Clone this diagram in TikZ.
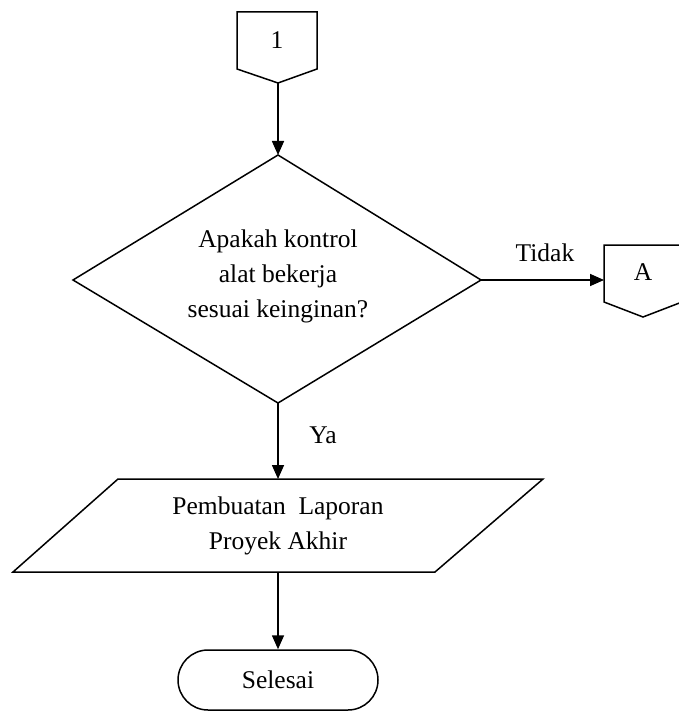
\documentclass[tikz,border=0pt]{standalone}
\usepackage{fontspec}
\setmainfont{Liberation Serif}
\usetikzlibrary{arrows.meta}
\begin{document}
\begin{tikzpicture}[x=1pt,y=-1pt,
  shapeline/.style={line width=1.5pt, line join=miter},
  conn/.style={line width=1.6pt, -{Triangle[length=14pt,width=12pt]}},
  txt/.style={font=\fontsize{25.5}{35}\selectfont, align=center, inner sep=0pt}]
\useasboundingbox (0,0) rectangle (678,711);
% connector 1
\draw[shapeline] (237,12) -- (317,12) -- (317,69) -- (278,83) -- (237,69) -- cycle;
\coordinate (c1b) at (278,83);
\node[txt] (t1) at (277,40) {1};
% decision
\draw[shapeline] (73,280) coordinate (dl) -- (278,155) coordinate (dt) -- (481,280) coordinate (dr) -- (278,403) coordinate (db) -- cycle;
\node[txt] (q) at (278,276) {Apakah kontrol\\alat bekerja\\sesuai keinginan?};
% off-page A
\draw[shapeline] (604,245) -- (682,245) -- (682,302) -- (643,317) -- (604,302) -- cycle;
\coordinate (al) at (604,280);
\node[txt] (tA) at (643,272) {A};
% parallelogram
\draw[shapeline] (118,479) -- (543,479) -- (435,572) -- (13,572) -- cycle;
\coordinate (pt) at (278,479);
\coordinate (pb) at (278,572);
\node[txt] (p) at (278,526) {Pembuatan\ \ Laporan\\Proyek Akhir};
% terminal
\node[draw, line width=1.5pt, rounded corners=30pt, minimum width=200pt, minimum height=60pt, inner sep=0pt, font=\fontsize{25.5}{35}\selectfont] (end) at (278,680) {Selesai};
% connectors
\draw[conn] (c1b) -- (dt);
\draw[conn] (dr) -- (al);
\draw[conn] (db) -- (pt);
\draw[conn] (pb) -- (end.north);
\node[txt] (tidak) at (545,253) {Tidak};
\node[txt] (ya) at (323,435) {Ya};
\end{tikzpicture}
\end{document}
